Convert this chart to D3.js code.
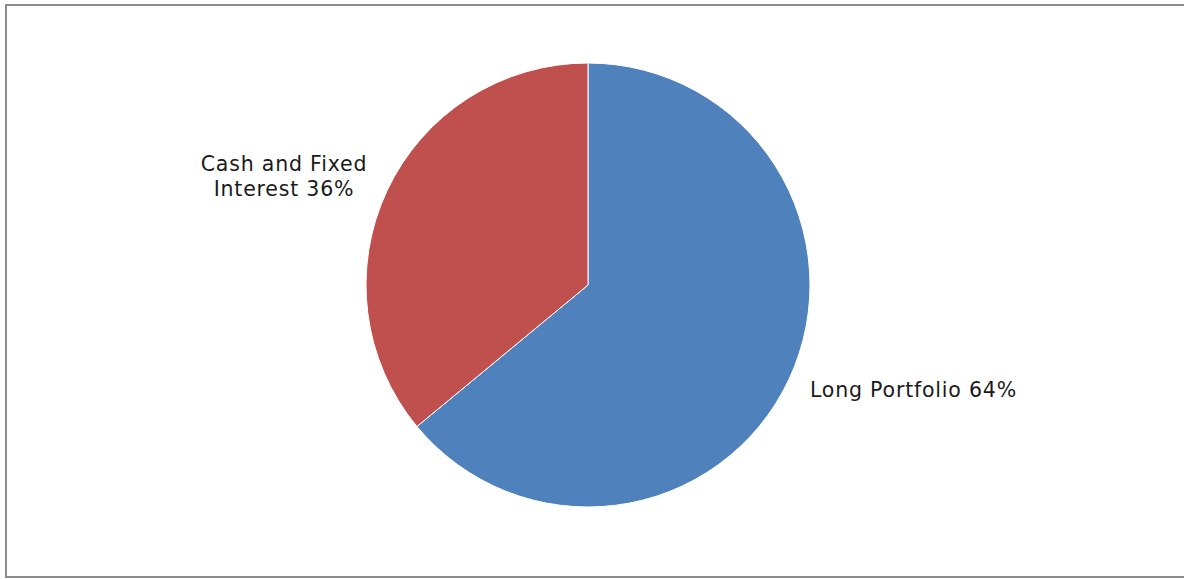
<!DOCTYPE html>
<html><head><meta charset="utf-8">
<script src="https://cdn.jsdelivr.net/npm/d3@7"></script>
<style>html,body{margin:0;padding:0;background:#fff;overflow:hidden}</style>
</head><body>
<svg id="c" width="1184" height="579"></svg>
<script>
const categories = ["Long Portfolio", "Cash and Fixed Interest"];
const values = [64, 36];
const labelLines = [["Long Portfolio 64%"], ["Cash and Fixed", "Interest 36%"]];
const colors = ["#4F81BD", "#C0504D"];

const svg = d3.select("#c");
svg.append("rect").attr("x", 6).attr("y", 5).attr("width", 1190).attr("height", 572)
  .attr("fill", "#fff").attr("stroke", "#8c8c8c").attr("stroke-width", 2);

const cx = 588, cy = 285, r = 222;
const pie = d3.pie().sort(null).value(d => d)(values);
const arc = d3.arc().innerRadius(0).outerRadius(r);
const g = svg.append("g").attr("transform", `translate(${cx},${cy})`);
g.selectAll("path").data(pie).join("path")
  .attr("d", arc).attr("fill", (d, i) => colors[i])
  .attr("stroke", "#fff").attr("stroke-width", 1);

const labelPos = [{x: 810, y: 397, anchor: "start"}, {x: 284, y: 171, anchor: "middle"}];
labelLines.forEach((lines, i) => {
  const t = svg.append("text").attr("x", labelPos[i].x).attr("y", labelPos[i].y)
    .attr("text-anchor", labelPos[i].anchor)
    .attr("font-family", "DejaVu Sans, Verdana, sans-serif").attr("font-size", 20.5)
    .attr("letter-spacing", 0.8)
    .attr("fill", "#1a1a1a");
  lines.forEach((l, j) => t.append("tspan").attr("x", labelPos[i].x).attr("dy", j ? 25 : 0).text(l));
});
</script>
</body></html>
